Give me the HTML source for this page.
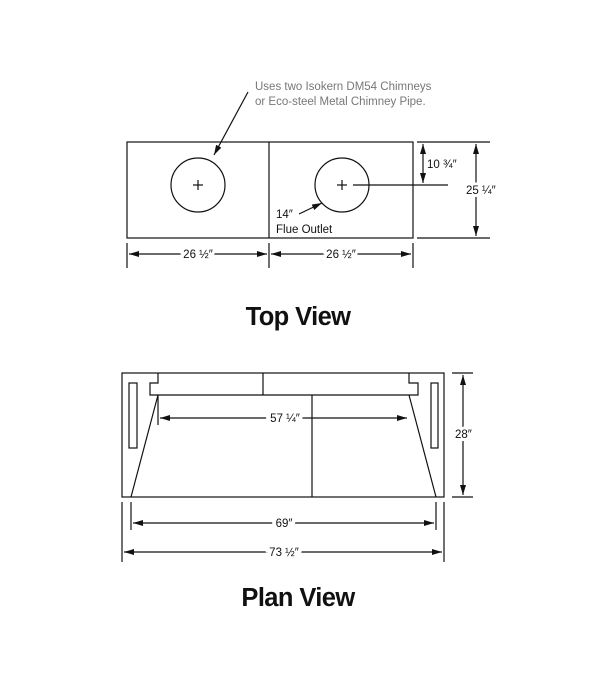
<!DOCTYPE html>
<html><head><meta charset="utf-8"><style>
html,body{margin:0;padding:0;background:#fff;}
svg{display:block;}
text{font-family:"Liberation Sans",sans-serif;}
</style></head><body>
<svg width="602" height="700" viewBox="0 0 602 700" xmlns="http://www.w3.org/2000/svg">
<defs>
<marker id="a" viewBox="0 0 10 6" refX="10" refY="3" markerWidth="10" markerHeight="6" orient="auto-start-reverse" markerUnits="userSpaceOnUse"><path d="M0,0 L10,3 L0,6 z" fill="#111"/></marker>
</defs>
<g stroke="#111" stroke-width="1.2" fill="none">
<rect x="127" y="142" width="286" height="96"/>
<line x1="269" y1="142" x2="269" y2="238"/>
<circle cx="198" cy="185" r="27"/>
<circle cx="342" cy="185" r="27"/>
<line x1="193" y1="185" x2="203" y2="185"/><line x1="198" y1="180" x2="198" y2="190"/>
<line x1="337" y1="185" x2="347" y2="185"/><line x1="342" y1="180" x2="342" y2="190"/>
<line x1="353" y1="185" x2="448" y2="185"/>
<line x1="417" y1="142" x2="490" y2="142"/>
<line x1="417" y1="238" x2="490" y2="238"/>
<line x1="423" y1="144" x2="423" y2="183" marker-start="url(#a)" marker-end="url(#a)"/>
<line x1="476" y1="144" x2="476" y2="236" marker-start="url(#a)" marker-end="url(#a)"/>
<line x1="127" y1="243" x2="127" y2="268"/>
<line x1="269" y1="243" x2="269" y2="268"/>
<line x1="413" y1="243" x2="413" y2="268"/>
<line x1="129" y1="254" x2="267" y2="254" marker-start="url(#a)" marker-end="url(#a)"/>
<line x1="271" y1="254" x2="411" y2="254" marker-start="url(#a)" marker-end="url(#a)"/>
<line x1="248" y1="92" x2="214" y2="155" marker-end="url(#a)"/>
<line x1="299" y1="214" x2="322" y2="203" marker-end="url(#a)"/>
<rect x="122" y="373" width="322" height="124"/>
<path d="M158,373 V383 H150 V395 H418 V383 H409 V373"/>
<line x1="263" y1="373" x2="263" y2="395"/>
<line x1="312" y1="395" x2="312" y2="497"/>
<line x1="158" y1="395" x2="131" y2="497"/>
<line x1="409" y1="395" x2="436" y2="497"/>
<rect x="129" y="383" width="8" height="65"/>
<rect x="431" y="383" width="7" height="65"/>
<line x1="158" y1="395" x2="158" y2="425"/>
<line x1="160" y1="418" x2="407" y2="418" marker-start="url(#a)" marker-end="url(#a)"/>
<line x1="452" y1="373" x2="473" y2="373"/>
<line x1="452" y1="497" x2="473" y2="497"/>
<line x1="463" y1="375" x2="463" y2="495" marker-start="url(#a)" marker-end="url(#a)"/>
<line x1="131" y1="502" x2="131" y2="530"/>
<line x1="436" y1="502" x2="436" y2="530"/>
<line x1="133" y1="523" x2="434" y2="523" marker-start="url(#a)" marker-end="url(#a)"/>
<line x1="122" y1="502" x2="122" y2="562"/>
<line x1="444" y1="502" x2="444" y2="562"/>
<line x1="124" y1="552" x2="442" y2="552" marker-start="url(#a)" marker-end="url(#a)"/>
</g>
<g font-size="11.5" fill="#111">
<text x="255" y="90" fill="#777">Uses two Isokern DM54 Chimneys</text>
<text x="255" y="105" fill="#777">or Eco-steel Metal Chimney Pipe.</text>
<text x="427" y="168" style="paint-order:stroke" stroke="#fff" stroke-width="4">10 ¾″</text>
<text x="466" y="194" style="paint-order:stroke" stroke="#fff" stroke-width="6">25 ¼″</text>
<text x="276" y="218">14″</text>
<text x="276" y="233">Flue Outlet</text>
<text x="198" y="258" text-anchor="middle" style="paint-order:stroke" stroke="#fff" stroke-width="6">26 ½″</text>
<text x="341" y="258" text-anchor="middle" style="paint-order:stroke" stroke="#fff" stroke-width="6">26 ½″</text>
<text x="285" y="422" text-anchor="middle" style="paint-order:stroke" stroke="#fff" stroke-width="8">57 ¼″</text>
<text x="455" y="438" style="paint-order:stroke" stroke="#fff" stroke-width="6">28″</text>
<text x="284" y="527" text-anchor="middle" style="paint-order:stroke" stroke="#fff" stroke-width="8">69″</text>
<text x="284" y="556" text-anchor="middle" style="paint-order:stroke" stroke="#fff" stroke-width="8">73 ½″</text>
</g>
<text x="298" y="325" text-anchor="middle" font-size="25.5" font-weight="bold" letter-spacing="-0.6" fill="#111">Top View</text>
<text x="298" y="606" text-anchor="middle" font-size="25.5" font-weight="bold" letter-spacing="-0.6" fill="#111">Plan View</text>
</svg>
</body></html>
